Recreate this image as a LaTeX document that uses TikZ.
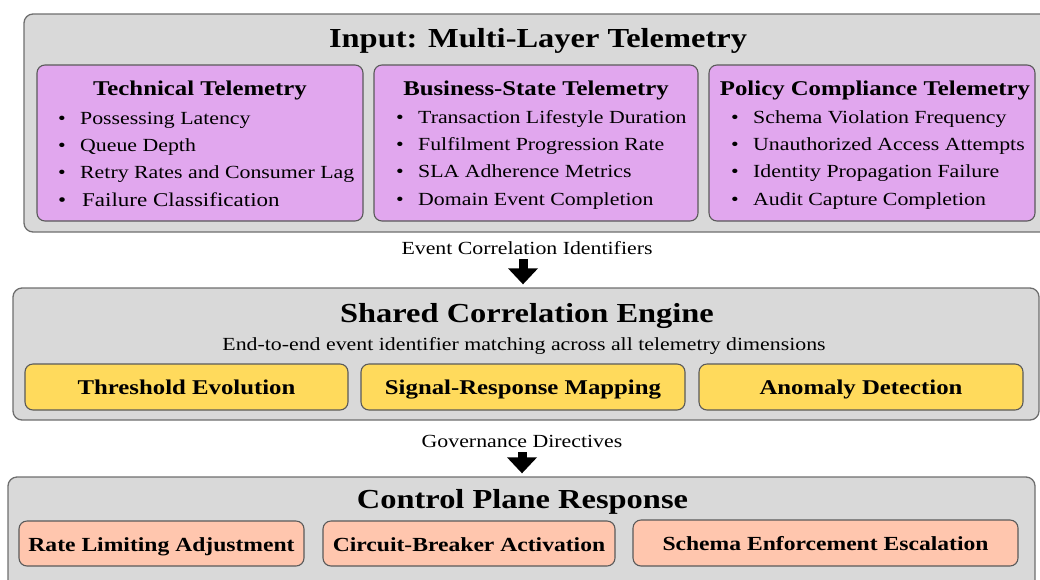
\documentclass[tikz,border=0pt]{standalone}
\usepackage{fontspec}
\setmainfont{Liberation Serif}[FakeStretch=1.18]
\usetikzlibrary{arrows.meta}

\definecolor{panelgray}{HTML}{D9D9D9}
\definecolor{paneledge}{HTML}{6E6E6E}
\definecolor{telepink}{HTML}{E1A7EE}
\definecolor{stageyellow}{HTML}{FFDA5C}
\definecolor{actsalmon}{HTML}{FFC6AE}
\definecolor{boxedge}{HTML}{5A5A5A}

\begin{document}
\begin{tikzpicture}[x=1pt, y=-1pt,
	panel/.style={draw=paneledge, fill=panelgray, line width=1.3pt, rounded corners=9pt, inner sep=0pt},
	telebox/.style={draw=boxedge, fill=telepink, line width=1.1pt, rounded corners=8pt, inner sep=0pt},
	stagebox/.style={draw=boxedge, fill=stageyellow, line width=1.1pt, rounded corners=8pt, inner sep=0pt,
		text height=15pt, text depth=0pt, font=\fontsize{21}{24}\selectfont\bfseries},
	actbox/.style={draw=boxedge, fill=actsalmon, line width=1.1pt, rounded corners=8pt, inner sep=0pt,
		text height=15.5pt, text depth=0pt, font=\fontsize{20}{23}\selectfont\bfseries},
	headline/.style={inner sep=0pt, anchor=base, font=\fontsize{27.5}{30}\selectfont\bfseries},
	boxhead/.style={inner sep=0pt, anchor=base, font=\fontsize{21}{24}\selectfont\bfseries},
	item/.style={inner sep=0pt, anchor=base west, font=\fontsize{18.5}{21}\selectfont},
	flowlabel/.style={inner sep=0pt, anchor=base, font=\fontsize{18.5}{21}\selectfont},
	fatarrow/.style={line width=9pt, -{Triangle[width=29pt, length=16pt]}, shorten <=5pt, shorten >=3pt}]
	\useasboundingbox (0,0) rectangle (1040,579);

	% input layer
	\node[panel, minimum width=1032pt, minimum height=218pt] (input) at (540,123) {};
	\node[headline] (inputtitle) at (538,47) {Input: Multi-Layer Telemetry};

	\node[telebox, minimum width=326pt, minimum height=156pt] (tech) at (200,143) {};
	\node[telebox, minimum width=324pt, minimum height=156pt] (biz) at (536,143) {};
	\node[telebox, minimum width=326pt, minimum height=156pt] (policy) at (872,143) {};

	\node[boxhead] (techhead) at (200,95) {Technical Telemetry};
	\node[boxhead] (bizhead) at (536,95) {Business-State Telemetry};
	\node[boxhead] (policyhead) at (875,95) {Policy Compliance Telemetry};

	\foreach \txt [count=\i] in {Possessing Latency, Queue Depth, Retry Rates and Consumer Lag}
	\node[item] (tech\i) at (58,124+27.4*\i-27.4) {\makebox[22pt][l]{\textbullet}\txt};
	\node[item, font=\fontsize{19.5}{22}\selectfont] (tech4) at (58,206.2) {\makebox[24pt][l]{\textbullet}Failure Classification};

	\foreach \txt [count=\i] in {Transaction Lifestyle Duration, Fulfilment Progression Rate, SLA Adherence Metrics, Domain Event Completion}
	\node[item] (biz\i) at (396,123+27.4*\i-27.4) {\makebox[22pt][l]{\textbullet}\txt};

	\foreach \txt [count=\i] in {Schema Violation Frequency, Unauthorized Access Attempts, Identity Propagation Failure, Audit Capture Completion}
	\node[item] (policy\i) at (731,123+27.4*\i-27.4) {\makebox[22pt][l]{\textbullet}\txt};

	% correlation engine
	\node[flowlabel] (evlbl) at (527,254) {Event Correlation Identifiers};

	\node[panel, minimum width=1026pt, minimum height=132pt] (engine) at (526,354) {};
	\node[headline] (enginetitle) at (527,322) {Shared Correlation Engine};
	\node[flowlabel] (enginesub) at (524,350) {End-to-end event identifier matching across all telemetry dimensions};

	\node[stagebox, minimum width=323pt, minimum height=46pt] (threshold) at (186.5,387) {Threshold Evolution};
	\node[stagebox, minimum width=324pt, minimum height=46pt] (mapping) at (523,387) {Signal-Response Mapping};
	\node[stagebox, minimum width=324pt, minimum height=46pt] (anomaly) at (861,387) {Anomaly Detection};

	\draw[fatarrow] ([xshift=-4pt]evlbl.south) -- ([xshift=-4pt]evlbl.south |- engine.north);

	% control plane
	\node[flowlabel] (govlbl) at (522,447) {Governance Directives};

	\node[panel, minimum width=1027pt, minimum height=123pt] (control) at (521.5,538.5) {};
	\node[headline] (controltitle) at (522.5,508) {Control Plane Response};

	\node[actbox, minimum width=285pt, minimum height=45pt] (ratelimit) at (161.5,543.5) {Rate Limiting Adjustment};
	\node[actbox, minimum width=292pt, minimum height=45pt] (breaker) at (469,543.5) {Circuit-Breaker Activation};
	\node[actbox, minimum width=385pt, minimum height=46pt] (schema) at (825.5,543) {Schema Enforcement Escalation};

	\draw[fatarrow] (govlbl.south) -- (govlbl.south |- control.north);
\end{tikzpicture}
\end{document}
